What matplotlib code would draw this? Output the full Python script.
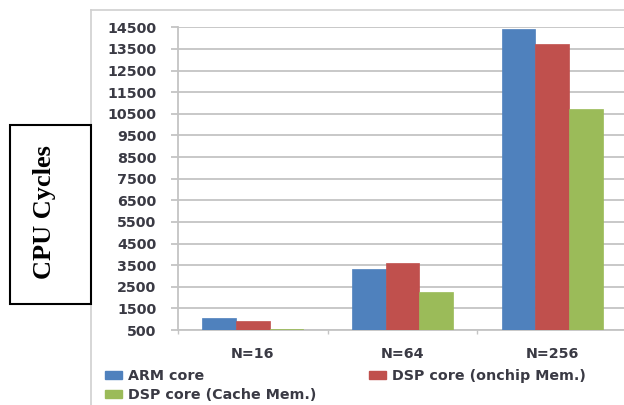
import numpy as np
import matplotlib
matplotlib.use("Agg")
import matplotlib.pyplot as plt
from matplotlib.patches import Rectangle, Patch
from matplotlib.lines import Line2D

# CPU cycles per FFT size, per core / memory setup
categories = ["N=16", "N=64", "N=256"]
arm_core = [1040, 3330, 14440]
dsp_onchip = [930, 3580, 13730]
dsp_cache = [560, 2260, 10730]

series_names = ["ARM core", "DSP core (onchip Mem.)", "DSP core (Cache Mem.)"]
series_colors = ["#4f81bd", "#c0504d", "#9bbb59"]
y_ticks = list(range(500, 14501, 1000))

W, H = 624, 405
fig = plt.figure(figsize=(W / 100, H / 100), dpi=100)
fig.patch.set_facecolor("white")


def px(x0, y0, x1, y1):
    # pixel box (top-left origin) -> figure fraction rect
    return [x0 / W, 1 - y1 / H, (x1 - x0) / W, (y1 - y0) / H]


ax = fig.add_axes(px(178, 27.3, 627, 330))

x = np.arange(len(categories))
bw = 0.225
for i, (vals, col) in enumerate(zip([arm_core, dsp_onchip, dsp_cache], series_colors)):
    ax.bar(x + (i - 1) * bw, np.array(vals) - 500, bw, bottom=500,
           color=col, edgecolor=col, linewidth=0.5, zorder=3)

grid_col = "#c4c4c4"
tick_col = "#3a3a44"
ax.set_ylim(500, 14500)
ax.set_xlim(-0.5, len(categories) - 0.5)
ax.set_yticks(y_ticks)
ax.set_yticklabels([str(v) for v in y_ticks])
ax.yaxis.grid(True, color=grid_col, linewidth=1.3, zorder=0)
ax.set_xticks(x)
ax.set_xticklabels(categories)
ax.set_xticks(np.arange(len(categories) + 1) - 0.5, minor=True)

for side in ["top", "right"]:
    ax.spines[side].set_visible(False)
for side in ["left", "bottom"]:
    ax.spines[side].set_color(grid_col)
    ax.spines[side].set_linewidth(1.3)

ax.tick_params(axis="y", length=5, width=1.3, color=grid_col, pad=10.5,
               labelsize=10.3, labelcolor=tick_col)
ax.tick_params(axis="x", which="major", length=0, pad=12,
               labelsize=10.3, labelcolor=tick_col)
ax.tick_params(axis="x", which="minor", length=3, width=1.0, color=grid_col)
for lab in ax.get_yticklabels() + ax.get_xticklabels():
    lab.set_fontweight("bold")

# outer chart frame
fig.add_artist(Line2D([91 / W, 91 / W], [0, 1 - 10 / H], transform=fig.transFigure,
                      color="#d0d0d0", linewidth=1.2))
fig.add_artist(Line2D([91 / W, 1], [1 - 10 / H, 1 - 10 / H], transform=fig.transFigure,
                      color="#d0d0d0", linewidth=1.2))

# boxed y-axis title
fig.add_artist(Rectangle((10 / W, 1 - 304 / H), 81 / W, 179 / H, transform=fig.transFigure,
                         facecolor="white", edgecolor="black", linewidth=1.5, zorder=5))
fig.text(45 / W, 1 - 212 / H, "CPU Cycles", rotation=90, ha="center", va="center",
         family="Liberation Serif", fontweight="bold", fontsize=19, zorder=6)

handles = [Patch(facecolor=c, edgecolor=c) for c in series_colors]
order = [0, 2, 1]
leg = fig.legend([handles[i] for i in order], [series_names[i] for i in order],
                 ncol=2, loc="upper left", bbox_to_anchor=(98 / W, 1 - 362 / H),
                 frameon=False, handlelength=1.2, handleheight=0.5, handletextpad=0.4,
                 columnspacing=3.65, labelspacing=0.35, borderpad=0,
                 prop={"size": 10.3, "weight": "bold"})
for t in leg.get_texts():
    t.set_color(tick_col)

fig.savefig("out.png", dpi=100)
